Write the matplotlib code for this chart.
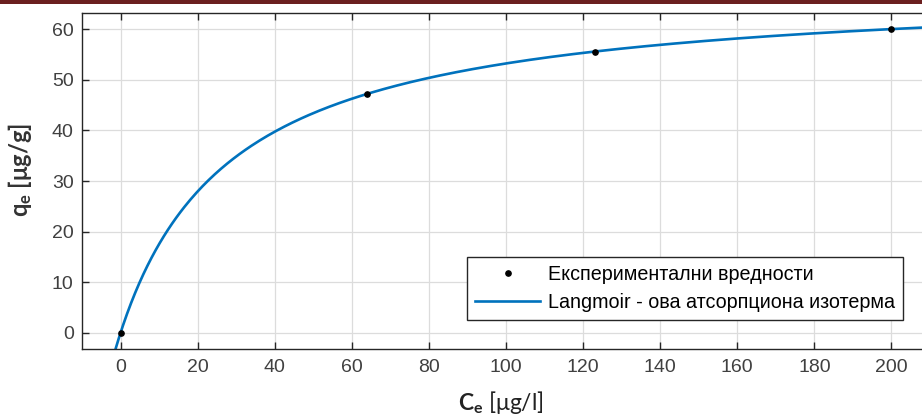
import numpy as np
import matplotlib
matplotlib.use('Agg')
from matplotlib import pyplot as plt
from matplotlib.patches import Rectangle

# experimental points
ce_exp = [0, 64, 123, 200]
qe_exp = [0, 47.2, 55.5, 60.0]

# Langmuir fit parameters (qm, KL)
qm = 68.8
KL = 1 / 29.25

x_ticks = [0, 20, 40, 60, 80, 100, 120, 140, 160, 180, 200]
y_ticks = [0, 10, 20, 30, 40, 50, 60]

plt.rcParams['mathtext.fontset'] = 'custom'
plt.rcParams['mathtext.rm'] = 'Lato'
plt.rcParams['mathtext.bf'] = 'Lato:bold'

fig = plt.figure(figsize=(9.22, 4.17), dpi=100)
fig.patches.append(Rectangle((0, 0.99), 1, 0.01, transform=fig.transFigure,
                             facecolor='#6b1f1f', edgecolor='none'))

ax = fig.add_axes([82 / 922, 68 / 417, 848 / 922, 336 / 417])

ce_fit = np.linspace(-1.5, 210, 400)
qe_fit = qm * KL * ce_fit / (1 + KL * ce_fit)

ax.plot(ce_exp, qe_exp, 'o', color='black', markersize=3.8,
        label='Експериментални вредности', zorder=3)
ax.plot(ce_fit, qe_fit, color='#0072BD', linewidth=1.9,
        label='Langmoir - ова атсорпциона изотерма', zorder=2)

ax.set_xlim(-10, 210)
ax.set_ylim(-3.2, 63.2)
ax.set_xticks(x_ticks)
ax.set_yticks(y_ticks)
ax.grid(True, color='#dcdcdc', linewidth=0.9)
ax.set_axisbelow(True)

ax.tick_params(axis='both', direction='in', length=5, width=1, colors='#262626',
               labelsize=14, top=True, right=True)
ax.tick_params(axis='x', pad=7)
ax.tick_params(axis='y', pad=6)
for t in ax.get_xticklabels() + ax.get_yticklabels():
    t.set_fontfamily('Liberation Sans')
    t.set_color('#404040')
for s in ax.spines.values():
    s.set_color('#262626')
    s.set_linewidth(1)

ax.set_xlabel(r'$\mathbf{C_e}$ [μg/l]', fontfamily='Lato', fontsize=16.5,
              color='#222222', va='center')
ax.xaxis.set_label_coords(0.494, -0.16)
ax.set_ylabel(r'$\mathbf{q_e}$ [μg/g]', fontfamily='Lato', fontsize=17,
              fontweight='bold', color='#333333', va='center')
ax.yaxis.set_label_coords(-0.073, 0.533)

leg = ax.legend(loc='lower right', bbox_to_anchor=(0.968, 0.086), borderaxespad=0,
                fancybox=False, edgecolor='#262626', framealpha=1,
                handlelength=3.3, handletextpad=0.4,
                prop={'family': 'Liberation Sans', 'size': 14.2},
                borderpad=0.4, labelspacing=0.45)
leg.get_frame().set_linewidth(1)

fig.savefig('out.png', dpi=100)
